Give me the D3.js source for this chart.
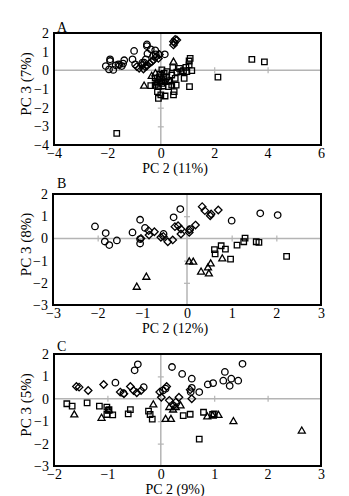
<!DOCTYPE html>
<html><head><meta charset="utf-8">
<script src="https://cdn.jsdelivr.net/npm/d3@7"></script>
<style>body{margin:0;background:#fff}svg{display:block}</style>
</head><body>
<script>
// ---------- DATA ----------
// Panel A
const A_xTicks = [-4, -2, 0, 2, 4, 6];
const A_yTicks = [-4, -3, -2, -1, 0, 1, 2];
const A_circles = [[-1.9,0.59],[-1.9,0.5],[-2.06,0.23],[-1.94,0.05],[-1.78,0.02],[-1.69,0.27],[-1.59,0.32],[-1.46,0.23],[-1.37,0.54],[-1.41,0.36],[-1.0,1.04],[-1.06,0.59],[-0.96,0.32],[-0.52,1.39],[-0.52,1.3],[-0.5,0.89],[-0.375,1.125],[-0.21,1.07],[-0.19,0.86],[-0.62,0.41],[-0.29,0.77],[0.15,0.86],[-0.56,0.59],[-0.69,0.41]];
const A_diamonds = [[0.475,1.54],[0.54,1.66],[0.6,1.625],[0.475,1.36],[0.51,1.48],[-0.9,0.2],[-0.81,0.11],[-0.65,0.07],[-0.525,0.23],[-0.425,0.375],[-0.275,0.55],[-0.175,0.73],[-0.09,0.64],[-0.34,0.46],[-0.59,0.2],[-0.71,0.29],[-1.55,0.28],[-0.05,0.85]];
const A_squares = [[-1.65,-3.375],[3.41,0.59],[3.88,0.45],[2.14,-0.36],[0.45,0.14],[0.7,0.11],[0.94,0.16],[1.1,0.64],[1.06,0.5],[1.06,0.29],[1.16,-0.02],[0.975,-0.07],[0.85,-0.02],[0.75,-0.07],[0.6,-0.1],[0.875,-0.43],[1.075,-0.875],[0.54,-0.43],[0.41,-0.25],[0.575,-0.79],[0.5,-1.14],[0.475,-1.32],[-0.125,-1.14],[-0.09,-1.5],[0.16,-1.375],[0.0,-1.32],[-0.375,-0.82],[-0.21,-0.79],[-0.09,-0.875],[0.075,-0.84],[0.29,-0.875],[0.41,-0.79],[-0.21,-0.4],[-0.05,-0.35],[0.1,-0.35],[0.16,-0.6],[0.04,-0.7],[-0.15,-0.6],[0.22,-0.35],[0.04,0.02],[0.125,-0.16],[0.225,-0.07],[-0.02,-0.2],[0.3,-0.55]];
const A_triangles = [[0.475,0.46],[-0.625,-0.82],[-0.34,-0.3],[-0.2,-0.16],[-0.09,-0.45],[0.0,-0.6],[-0.15,-0.7],[0.1,-0.5],[0.35,-0.6]];

// Panel B
const B_xTicks = [-3, -2, -1, 0, 1, 2, 3];
const B_yTicks = [-3, -2, -1, 0, 1, 2];
const B_circles = [[-2.06,0.54],[-1.82,0.24],[-1.84,-0.14],[-1.74,-0.3],[-1.57,-0.09],[-1.22,0.27],[-1.05,0.84],[-1.05,-0.03],[-1.05,-0.23],[-0.94,0.47],[-0.525,0.2],[-0.3,0.95],[-0.15,1.32],[0.07,0.42],[1.0,0.8],[1.64,1.13],[2.03,1.05]];
const B_diamonds = [[-1.03,0.0],[-0.85,0.15],[-0.86,0.35],[-0.73,0.3],[-0.585,0.05],[-0.53,0.09],[-0.43,-0.15],[-0.32,-0.07],[-0.27,0.53],[-0.2,0.57],[-0.135,0.2],[-0.135,0.42],[0.05,0.38],[0.19,0.6],[0.34,1.43],[0.4,1.25],[0.52,1.02],[0.54,1.1],[0.7,1.28],[0.05,0.27]];
const B_squares = [[0.615,-0.51],[0.63,-0.7],[0.765,-0.33],[0.86,-0.48],[0.975,-0.93],[1.12,-0.3],[1.27,-0.15],[1.3,0.01],[1.55,-0.15],[1.61,-0.18],[2.23,-0.81]];
const B_triangles = [[-1.125,-2.18],[-0.91,-1.73],[0.05,-1.04],[0.14,-1.05],[0.315,-1.5],[0.49,-1.58],[0.47,-1.31],[0.53,-1.13],[0.79,-0.9]];

// Panel C
const C_xTicks = [-2, -1, 0, 1, 2, 3];
const C_yTicks = [-3, -2, -1, 0, 1, 2];
const C_circles = [[-0.43,1.54],[-0.49,1.27],[-0.85,0.72],[-0.32,0.52],[0.21,1.42],[0.4,1.11],[0.58,0.9],[0.58,0.49],[0.56,0.3],[0.72,0.3],[0.88,0.64],[0.98,0.7],[1.17,0.81],[1.2,1.2],[1.32,0.9],[1.29,0.58],[1.45,0.81],[1.53,1.56],[0.09,0.45],[-0.7,0.25],[0.04,0.37]];
const C_diamonds = [[-1.58,0.55],[-1.53,0.52],[-1.36,0.37],[-1.07,0.64],[-0.76,0.3],[-0.69,0.22],[-0.57,0.55],[-0.51,0.37],[-0.45,0.27],[-0.37,0.37],[-0.02,0.3],[0.01,0.07],[0.11,0.55],[0.16,-0.07],[0.34,0.07],[0.58,0.0],[0.55,0.4],[0.24,-0.3],[0.28,-0.15]];
const C_squares = [[-1.76,-0.22],[-1.66,-0.33],[-1.38,-0.18],[-1.15,-0.33],[-1.01,-0.37],[-0.98,-0.52],[-0.97,-0.48],[-1.01,-0.7],[-0.9,-0.72],[-0.61,-0.67],[-0.57,-0.48],[-0.23,-0.55],[-0.2,-0.7],[-0.16,-0.91],[0.42,-0.75],[0.55,-0.69],[0.8,-0.6],[0.97,-0.7],[1.0,-0.67],[0.72,-1.8]];
const C_triangles = [[-1.62,-0.7],[-1.11,-0.85],[-0.97,-0.52],[-0.14,-0.25],[0.09,-0.9],[0.19,-0.9],[0.23,-0.48],[0.28,-0.37],[0.16,-0.37],[0.37,-0.3],[0.87,-0.79],[0.97,-0.75],[1.08,-0.72],[1.36,-1.0],[2.64,-1.42]];

const panels = [
  {label:"A", xTitle:"PC 2 (11%)", yTitle:"PC 3 (7%)", xTicks:A_xTicks, yTicks:A_yTicks,
   circles:A_circles, diamonds:A_diamonds, squares:A_squares, triangles:A_triangles,
   box:{l:54,r:321,t:33,b:145}, letterY:32},
  {label:"B", xTitle:"PC 2 (12%)", yTitle:"PC 3 (8%)", xTicks:B_xTicks, yTicks:B_yTicks,
   circles:B_circles, diamonds:B_diamonds, squares:B_squares, triangles:B_triangles,
   box:{l:53,r:321,t:194,b:305}, letterY:188},
  {label:"C", xTitle:"PC 2 (9%)", yTitle:"PC 3 (5%)", xTicks:C_xTicks, yTicks:C_yTicks,
   circles:C_circles, diamonds:C_diamonds, squares:C_squares, triangles:C_triangles,
   box:{l:54,r:321,t:354,b:466}, letterY:351}
];

// ---------- DRAW ----------
const W = 349, H = 496;
const FONT = "'Liberation Serif','Times New Roman',serif";
const svg = d3.select("body").append("svg").attr("width", W).attr("height", H);

const shapes = {
  circle: (s) => d3.symbol().type(d3.symbolCircle).size(Math.PI*s*s/4)(),
  square: (s) => `M${-s/2},${-s/2}h${s}v${s}h${-s}Z`,
  diamond: (s) => `M0,${-s/2}L${s/2},0L0,${s/2}L${-s/2},0Z`,
  triangle: (s) => { const h = s*0.87; return `M0,${-h*0.6}L${s/2},${h*0.4}L${-s/2},${h*0.4}Z`; }
};

panels.forEach(p => {
  const {l,r,t,b} = p.box;
  const x = d3.scaleLinear().domain(d3.extent(p.xTicks)).range([l, r]);
  const y = d3.scaleLinear().domain(d3.extent(p.yTicks)).range([b, t]);
  const g = svg.append("g");

  // zero lines
  g.append("line").attr("x1", l).attr("x2", r).attr("y1", y(0)).attr("y2", y(0))
    .attr("stroke", "#b4b4b4").attr("stroke-width", 1.5);
  g.append("line").attr("x1", x(0)).attr("x2", x(0)).attr("y1", t).attr("y2", b)
    .attr("stroke", "#b4b4b4").attr("stroke-width", 1.5);

  // tick marks along zero lines
  const xInner = d3.range(Math.ceil(x.domain()[0]), x.domain()[1] + 0.001, p.xTicks[1]-p.xTicks[0])
    .filter(v => v !== 0 && v !== x.domain()[0] && v !== x.domain()[1]);
  const yInner = d3.range(Math.ceil(y.domain()[0]), y.domain()[1] + 0.001, 1)
    .filter(v => v !== 0 && v !== y.domain()[0] && v !== y.domain()[1]);
  const zx = g.append("g").attr("transform", `translate(0,${y(0)-3})`)
    .call(d3.axisBottom(x).tickValues(xInner).tickSize(6).tickFormat(""));
  zx.select(".domain").remove();
  zx.selectAll(".tick line").attr("stroke", "#b4b4b4").attr("stroke-width", 1.2);
  const zy = g.append("g").attr("transform", `translate(${x(0)+3},0)`)
    .call(d3.axisLeft(y).tickValues(yInner).tickSize(6).tickFormat(""));
  zy.select(".domain").remove();
  zy.selectAll(".tick line").attr("stroke", "#b4b4b4").attr("stroke-width", 1.2);

  // tick labels
  const ax = g.append("g").attr("transform", `translate(0,${b+1})`)
    .call(d3.axisBottom(x).tickValues(p.xTicks).tickSize(0).tickPadding(2).tickFormat(d3.format("d")));
  ax.select(".domain").remove();
  ax.selectAll("text").attr("font-family", FONT).attr("font-size", 14).attr("fill", "#000");
  const ay = g.append("g").attr("transform", `translate(${l-1},0)`)
    .call(d3.axisLeft(y).tickValues(p.yTicks).tickSize(0).tickPadding(4).tickFormat(d3.format("d")));
  ay.select(".domain").remove();
  ay.selectAll("text").attr("font-family", FONT).attr("font-size", 14).attr("fill", "#000");

  // markers
  const drawSet = (data, shape, size) => {
    g.append("g").selectAll("path").data(data).join("path")
      .attr("transform", d => `translate(${x(d[0])},${y(d[1])})`)
      .attr("d", shapes[shape](size))
      .attr("fill", "none").attr("stroke", "#000").attr("stroke-width", 1.3);
  };
  drawSet(p.squares, "square", 5.5);
  drawSet(p.triangles, "triangle", 7);
  drawSet(p.diamonds, "diamond", 7.5);
  drawSet(p.circles, "circle", 6.5);

  // frame
  g.append("rect").attr("x", l).attr("y", t).attr("width", r-l).attr("height", b-t)
    .attr("fill", "none").attr("stroke", "#000").attr("stroke-width", 2);

  // titles
  g.append("text").attr("x", 175).attr("y", b + 28).attr("text-anchor", "middle")
    .attr("font-family", FONT).attr("font-size", 14).text(p.xTitle);
  g.append("text").attr("transform", `translate(31,${(t+b)/2 - 5}) rotate(-90)`)
    .attr("text-anchor", "middle").attr("font-family", FONT).attr("font-size", 15).text(p.yTitle);
  g.append("text").attr("x", 57).attr("y", p.letterY)
    .attr("font-family", FONT).attr("font-size", 14).text(p.label);
});
</script>
</body></html>
